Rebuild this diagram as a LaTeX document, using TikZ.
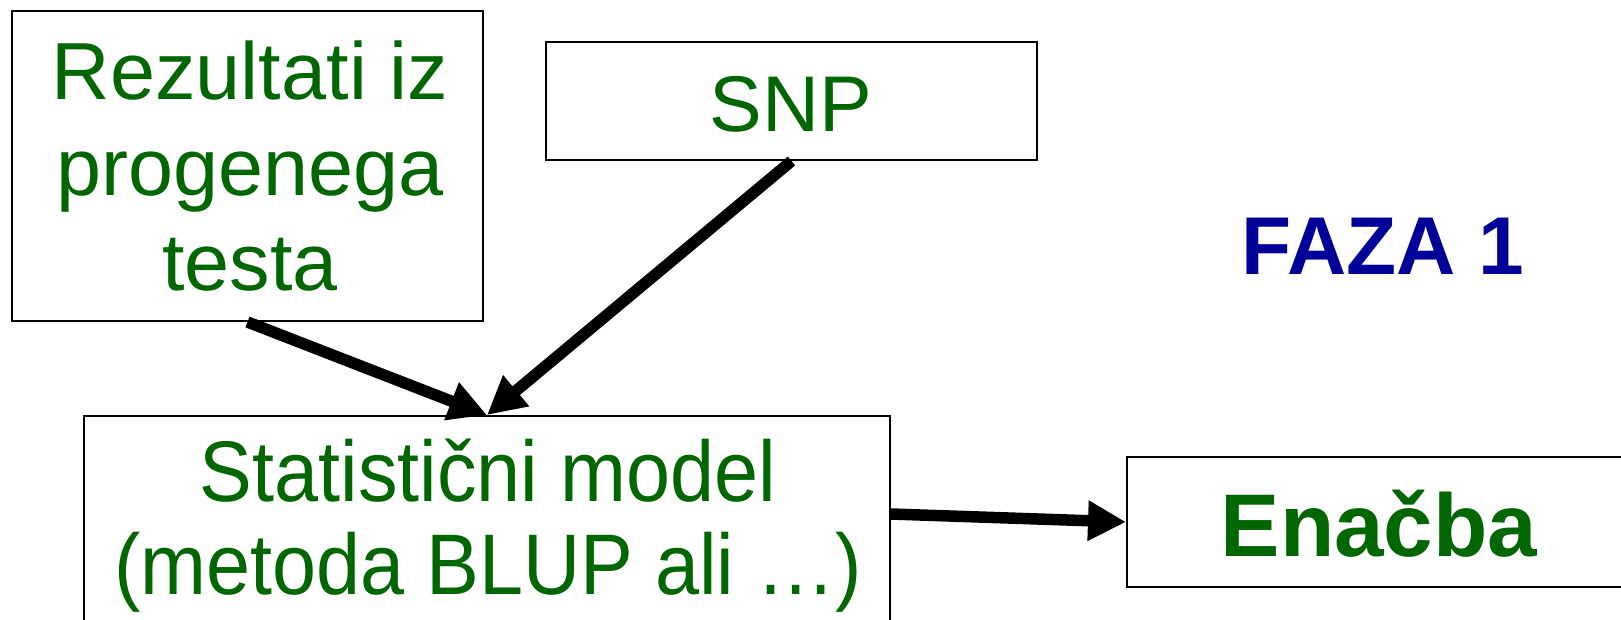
\documentclass[tikz,border=0pt]{standalone}
\usepackage{fontspec}
\setmainfont{Liberation Sans}
\newfontfamily\narrowsans[FakeStretch=0.92]{Liberation Sans}
\usetikzlibrary{arrows.meta}
\definecolor{txtgreen}{RGB}{0,102,0}
\definecolor{phaseblue}{RGB}{0,0,153}

\begin{document}
\begin{tikzpicture}[x=1pt,y=-1pt,
  box/.style={draw, line width=2pt, rectangle, inner sep=0pt},
  txt/.style={text=txtgreen, anchor=base, inner sep=0pt},
  link/.style={line width=11.5pt, -{Triangle[length=38pt,width=38pt]}}
]
\useasboundingbox (0,0) rectangle (1621,619);
\clip (0,0) rectangle (1621,619);
\fill[white] (0,0) rectangle (1621,619);

% boxes
\node[box, minimum width=471pt, minimum height=310pt] (res) at (247.5,166) {};
\node[box, minimum width=491pt, minimum height=118pt] (snp) at (791.5,101) {};
\node[box, minimum width=806pt, minimum height=224pt] (stat) at (487,528) {};
\node[box, minimum width=573pt, minimum height=130pt] (enb) at (1413.5,522) {};

% box texts
\node[txt, font=\fontsize{81}{96}\selectfont] (res1) at (250,99) {Rezultati iz};
\node[txt, font=\fontsize{81}{96}\selectfont] (res2) at (250,195) {progenega};
\node[txt, font=\fontsize{81}{96}\selectfont] (res3) at (250,290) {testa};
\node[txt, font=\fontsize{79}{96}\selectfont] (snpt) at (791,131) {SNP};
\node[txt, font=\narrowsans\fontsize{86}{93}\selectfont] (stat1) at (488,501) {Statistični model};
\node[txt, font=\narrowsans\fontsize{86}{93}\selectfont] (stat2) at (488,594) {(metoda BLUP ali …)};
\node[txt, font=\bfseries\fontsize{89}{100}\selectfont] (enbt) at (1379,556) {Enačba};

% phase label
\node[anchor=base, inner sep=0pt, text=phaseblue, font=\bfseries\fontsize{82}{90}\selectfont] (faza) at (1383,274) {FAZA 1};

% connectors
\draw[link] (res.south) -- (stat.north);
\draw[link] (snp.south) -- (stat.north);
\draw[link] ([yshift=14pt]stat.east) -- (enb.west);
\end{tikzpicture}
\end{document}
